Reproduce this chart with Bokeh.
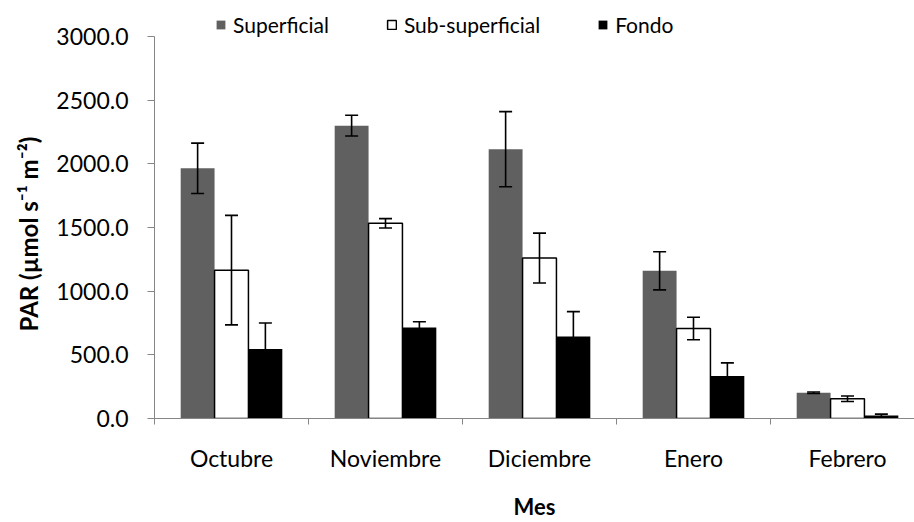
from bokeh.plotting import figure
from bokeh.models import (ColumnDataSource, Range1d, FixedTicker, PrintfTickFormatter,
                          Whisker, TeeHead, Legend, LegendItem, Title)
from bokeh.embed import file_html
from bokeh.resources import INLINE

# PAR by month and depth (mean and error)
meses = ["Octubre", "Noviembre", "Diciembre", "Enero", "Febrero"]
superficial = [1965, 2300, 2115, 1160, 202]
superficial_err = [198, 82, 295, 150, 6]
subsuperficial = [1165, 1533, 1260, 707, 155]
subsuperficial_err = [430, 37, 196, 88, 22]
fondo = [545, 715, 644, 334, 24]
fondo_err = [205, 45, 195, 103, 10]
y_ticks = [0, 500, 1000, 1500, 2000, 2500, 3000]

FONT = "Lato"
AXIS_GREY = "#868686"

# geometry of the drawing area (pixels)
FRAME_LEFT, FRAME_BOTTOM, AXIS_TOP = 154, 418, 36
CAT_PX = 154  # width of one month on screen

# each month occupies one unit on the x scale; bars sit at the unit centre
centers = [i + 0.5 for i in range(len(meses))]
bounds = [float(i) for i in range(len(meses) + 1)]
bar_w = 0.22

# the frame runs up to the top edge so the legend can sit above the 3000 tick
y_top = y_ticks[-1] * FRAME_BOTTOM / (FRAME_BOTTOM - AXIS_TOP)

p = figure(width=914, height=522, output_backend="svg", toolbar_location=None,
           x_range=Range1d(0, (914 - FRAME_LEFT) / CAT_PX),
           y_range=Range1d(0, y_top),
           min_border_left=FRAME_LEFT, min_border_right=0, min_border_top=0,
           min_border_bottom=522 - FRAME_BOTTOM)
p.outline_line_color = None
p.xgrid.grid_line_color = None
p.ygrid.grid_line_color = None
p.background_fill_color = "white"
p.border_fill_color = "white"

series = [
    ("Superficial", superficial, superficial_err, -bar_w, "#606060", None),
    ("Sub-superficial", subsuperficial, subsuperficial_err, 0.0, "white", "black"),
    ("Fondo", fondo, fondo_err, bar_w, "black", None),
]

items = []
for name, vals, errs, off, fill, line in series:
    src = ColumnDataSource(dict(
        x=[c + off for c in centers],
        top=vals,
        upper=[v + e for v, e in zip(vals, errs)],
        lower=[v - e for v, e in zip(vals, errs)],
    ))
    r = p.vbar(x="x", top="top", width=bar_w, bottom=0, source=src,
               fill_color=fill, line_color=line, line_width=1.5)
    w = Whisker(source=src, base="x", upper="upper", lower="lower",
                line_color="black", line_width=1.6, level="overlay",
                upper_head=TeeHead(size=13, line_color="black", line_width=1.6),
                lower_head=TeeHead(size=13, line_color="black", line_width=1.6))
    p.add_layout(w)
    items.append(LegendItem(label=name, renderers=[r]))

# y axis (line stops at the 3000 tick)
p.yaxis.bounds = (y_ticks[0], y_ticks[-1])
p.yaxis.ticker = FixedTicker(ticks=y_ticks)
p.yaxis.formatter = PrintfTickFormatter(format="%.1f")
p.yaxis.axis_line_color = AXIS_GREY
p.yaxis.major_tick_line_color = AXIS_GREY
p.yaxis.major_tick_out = 7
p.yaxis.major_tick_in = 0
p.yaxis.minor_tick_line_color = None
p.yaxis.major_label_text_font = FONT
p.yaxis.major_label_text_font_size = "23px"
p.yaxis.major_label_text_color = "black"
p.yaxis.major_label_standoff = 19

# y title, starting from the bottom of the frame so it centres on 0-3000
p.add_layout(Title(text="PAR (µmol s⁻¹ m⁻²)", align="left", offset=87,
                   vertical_align="middle", standoff=20,
                   text_font=FONT, text_font_style="bold",
                   text_font_size="24px", text_color="black"), "left")

# x axis: labels at month centres, tick marks at month boundaries
p.xaxis.ticker = FixedTicker(ticks=centers, minor_ticks=bounds)
p.xaxis.major_label_overrides = {c: m for c, m in zip(centers, meses)}
p.xaxis.axis_line_color = AXIS_GREY
p.xaxis.major_tick_line_color = None
p.xaxis.minor_tick_line_color = AXIS_GREY
p.xaxis.minor_tick_out = 6
p.xaxis.minor_tick_in = 0
p.xaxis.major_tick_out = 6
p.xaxis.major_label_text_font = FONT
p.xaxis.major_label_text_font_size = "23px"
p.xaxis.major_label_text_color = "black"
p.xaxis.major_label_standoff = 19
p.xaxis.axis_label = "Mes"
p.xaxis.axis_label_text_font = FONT
p.xaxis.axis_label_text_font_style = "bold"
p.xaxis.axis_label_text_font_size = "22px"
p.xaxis.axis_label_text_color = "black"
p.xaxis.axis_label_standoff = 18

legend = Legend(items=items, orientation="horizontal",
                location=(61, FRAME_BOTTOM - 37),
                glyph_width=11, glyph_height=11, label_standoff=7, spacing=57,
                padding=0, margin=0, border_line_color=None,
                background_fill_alpha=0,
                label_text_font=FONT, label_text_font_size="21px",
                label_text_color="black")
p.add_layout(legend, "center")

open("out.html", "w").write(file_html(p, INLINE))
